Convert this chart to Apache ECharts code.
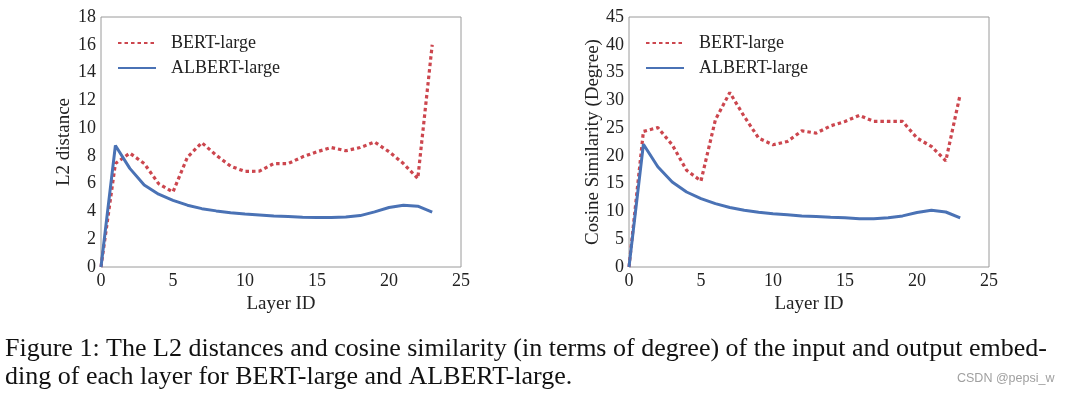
<!DOCTYPE html>
<html><head><meta charset="utf-8">
<script src="https://cdn.jsdelivr.net/npm/echarts@6/dist/echarts.min.js"></script>
<style>html,body{margin:0;padding:0;background:#fff;}#c{width:1067px;height:395px;}</style>
</head><body><div id="c"></div>
<script>
const layers = [0,1,2,3,4,5,6,7,8,9,10,11,12,13,14,15,16,17,18,19,20,21,22,23];
const bertL2 = [0,7.45,8.2,7.45,6.0,5.4,7.9,8.95,8.05,7.26,6.88,6.9,7.45,7.45,7.93,8.3,8.6,8.37,8.6,9.0,8.3,7.45,6.37,16.0];
const albertL2 = [0,8.75,7.1,5.9,5.24,4.8,4.45,4.2,4.04,3.9,3.82,3.75,3.68,3.63,3.58,3.56,3.56,3.6,3.7,3.97,4.28,4.45,4.38,3.95];
const bertCos = [0,24.4,25.1,22.0,17.4,15.5,26.5,31.4,27.1,23.2,22.0,22.6,24.5,24.1,25.4,26.2,27.3,26.2,26.2,26.2,23.2,21.7,19.1,31.1];
const albertCos = [0,22.1,18.05,15.3,13.5,12.3,11.4,10.7,10.2,9.87,9.6,9.4,9.2,9.1,8.97,8.85,8.7,8.7,8.85,9.2,9.8,10.2,9.9,8.85];
const xTicks = [0,5,10,15,20,25];
const yTicksL2 = [0,2,4,6,8,10,12,14,16,18];
const yTicksCos = [0,5,10,15,20,25,30,35,40,45];
const captionLines = [
  'Figure 1: The L2 distances and cosine similarity (in terms of degree) of the input and output embed-',
  'ding of each layer for BERT-large and ALBERT-large.'
];
const watermark = 'CSDN @pepsi_w';

const serif = 'Liberation Serif';
const red = '#cc464e', blue = '#4a72b5';
const pair = (xs, ys) => xs.map((x,i)=>[x, ys[i]]);

function xAx(gi){
  return {gridIndex:gi, type:'value', min:0, max:25, interval:5, name:'Layer ID', nameLocation:'middle', nameGap:21,
    nameTextStyle:{fontFamily:serif, fontSize:19, color:'#222'},
    axisLine:{show:false}, axisTick:{show:false}, splitLine:{show:false},
    axisLabel:{fontFamily:serif, fontSize:18, color:'#222', margin:5}};
}
function yAx(gi, max, interval, name, gap){
  return {gridIndex:gi, type:'value', min:0, max:max, interval:interval, name:name, nameLocation:'middle', nameGap:gap,
    nameTextStyle:{fontFamily:serif, fontSize:19, color:'#222'},
    axisLine:{show:false}, axisTick:{show:false}, splitLine:{show:false},
    axisLabel:{fontFamily:serif, fontSize:18, color:'#222', margin:5}};
}
function ser(name, gi, data, color, dotted){
  return {name:name, type:'line', xAxisIndex:gi, yAxisIndex:gi, data:data, symbol:'none', smooth:false,
    lineStyle:{color:color, width: dotted?3.2:3, type: dotted?[3.5,3]:'solid'}, itemStyle:{color:color}};
}
function leg(left){
  return {left:left, top:34, orient:'vertical', itemWidth:38, itemHeight:14, itemGap:7, padding:0,
    itemStyle:{opacity:0},
    data:['BERT-large','ALBERT-large'], textStyle:{fontFamily:serif, fontSize:18, color:'#222', padding:[0,0,0,10]}};
}
const chart = echarts.init(document.getElementById('c'));
chart.setOption({
  animation:false,
  grid:[
    {left:101, right:606, top:17, bottom:128, show:true, borderColor:'#9a9a9a', borderWidth:1},
    {left:629, right:78, top:17, bottom:128, show:true, borderColor:'#9a9a9a', borderWidth:1}
  ],
  legend:[leg(117), leg(645)],
  xAxis:[xAx(0), xAx(1)],
  yAxis:[yAx(0,18,2,'L2 distance',27), yAx(1,45,5,'Cosine Similarity (Degree)',26)],
  series:[
    ser('BERT-large',0,pair(layers,bertL2),red,true),
    ser('ALBERT-large',0,pair(layers,albertL2),blue,false),
    ser('BERT-large',1,pair(layers,bertCos),red,true),
    ser('ALBERT-large',1,pair(layers,albertCos),blue,false)
  ],
  graphic:[
    {type:'text', left:5, top:336, style:{text:captionLines[0], font:'26px "Liberation Serif"', fill:'#111'}},
    {type:'text', left:5, top:364, style:{text:captionLines[1], font:'26px "Liberation Serif"', fill:'#111'}},
    {type:'text', left:957, top:372, style:{text:watermark, font:'12.5px "Liberation Sans"', fill:'#a0a0a0'}}
  ]
});
</script></body></html>
